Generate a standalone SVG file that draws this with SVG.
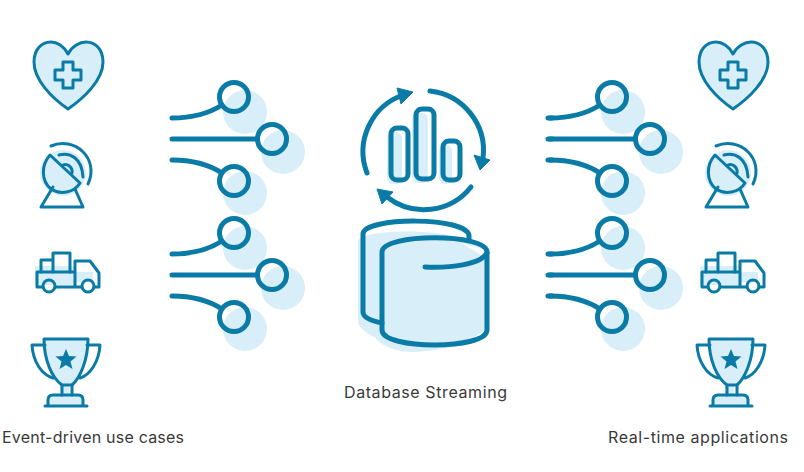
<svg xmlns="http://www.w3.org/2000/svg" width="804" height="472" viewBox="0 0 804 472">
<style>
.s{fill:none;stroke:#0a7ba6;stroke-width:3;stroke-linecap:round;stroke-linejoin:round}
.t{stroke-width:5}
.f{fill:#d8eef8;stroke:none}
.a{fill:#0a7ba6;stroke:#0a7ba6;stroke-width:1;stroke-linejoin:round}
text{font-family:"Inter","Noto Sans","Liberation Sans",sans-serif;font-size:16px;fill:#3a3a3a}
</style>
<defs>
<g id="heart">
<path class="f" d="M68 56C72 47 80 43 86 43C96 43 102 51 102 62C102 80 84 98 68 109C52 98 33 82 33 63C33 51 41 43 51 43C57 43 64 47 68 56Z"/>
<path class="s" d="M68 54C72 46 80 42 86 42C96 42 103 50 103 62C103 80 84 98 68 109C52 98 34 80 34 62C34 50 41 42 51 42C57 42 64 46 68 54Z"/>
<path class="s" d="M55 70H63V62H73V70H81V80H73V88H63V80H55Z"/>
</g>
<g id="dish">
<circle class="f" cx="63" cy="173" r="23"/>
<path class="s" d="M50 155L80 183C74 193 60 195 51 189C41 181 41 165 50 155Z"/>
<path class="s" d="M53 187L41 207H83L75 189"/>
<path class="s" d="M59 155C70 152 82 158 83 177"/>
<path class="s" d="M63 165C67 163 73 167 72 173"/>
<path class="s" d="M51 146C74 136 100 158 88 184"/>
</g>
<g id="truck">
<path class="f" d="M35 266H75V272H93V282H75V285H35Z"/>
<path class="s" d="M43 287H37V272H75V287H55M75 272V261H90L99 273V287H94M82 287H75"/>
<path class="s" d="M41 272V260H53M53 272V253H70V272"/>
<circle class="s" cx="49" cy="286" r="6"/>
<circle class="s" cx="88" cy="286" r="6"/>
</g>
<g id="trophy">
<path class="f" d="M45 340H88C88 360 80 378 69 385V396H82V405H48V396H60V385C48 376 44 360 45 340Z"/>
<path class="s" d="M44 339H88C88 360 80 378 72 385H62C52 378 44 360 44 339Z"/>
<path class="s" d="M45 345H32C33 362 42 375 53 378M87 345H100C99 362 90 375 80 378"/>
<path class="s" d="M62 385V395M72 385V395"/>
<path class="s" d="M48 406V400Q48 395 53 395H78Q83 395 83 400V406M45 406H87"/>
<path d="M66 349L69 356L76.500 356.500L70.500 361.500L72.500 369L66 365L59.500 369L61.500 361.500L55.500 356.500L63 356Z" fill="#0a7ba6"/>
</g>
<g id="fan">
<circle class="f" cx="245" cy="112" r="22"/>
<circle class="f" cx="283" cy="152" r="22"/>
<circle class="f" cx="245" cy="193" r="22"/>
<path class="s t" d="M222 105C208 114 190 118 172 118M257 139H172M222 173C208 164 190 160 172 160"/>
<circle class="s t" cx="234" cy="97" r="14.500"/>
<circle class="s t" cx="272" cy="139" r="14.500"/>
<circle class="s t" cx="234" cy="181" r="14.500"/>
</g>
<path id="stub" class="s t" d="M548 118H552M548 139H552M548 160H552"/>
</defs>

<g id="connectors">
<use href="#fan"/>
<use href="#fan" y="136"/>
<use href="#fan" x="378"/>
<use href="#stub"/>
<use href="#fan" x="378" y="136"/>
<use href="#stub" y="136"/>
</g>

<g id="left-heart"><use href="#heart"/></g>
<g id="left-dish"><use href="#dish"/></g>
<g id="left-truck"><use href="#truck"/></g>
<g id="left-trophy"><use href="#trophy"/></g>
<g id="right-heart"><use href="#heart" x="665"/></g>
<g id="right-dish"><use href="#dish" x="665"/></g>
<g id="right-truck"><use href="#truck" x="665"/></g>
<g id="right-trophy"><use href="#trophy" x="665"/></g>

<g id="analytics">
<rect class="f" x="387" y="132" width="15" height="52" rx="6"/>
<rect class="f" x="412" y="113" width="16" height="70" rx="6"/>
<rect class="f" x="439" y="145" width="13" height="39" rx="6"/>
<rect class="s t" x="391" y="128" width="17" height="52" rx="6"/>
<rect class="s t" x="416" y="109" width="18" height="70" rx="6"/>
<rect class="s t" x="443" y="141" width="17" height="39" rx="6"/>
<path class="s t" d="M430 91A60 60 0 0 1 483 158"/>
<path class="s t" d="M367 173A60 60 0 0 1 403 95"/>
<path class="s t" d="M471 187A60 60 0 0 1 387 197"/>
<path class="a" d="M397 88L413 92L401 104Z"/>
<path class="a" d="M474 155L490 160L480 170Z"/>
<path class="a" d="M377 189L393 192L382 204Z"/>
</g>

<g id="database">
<path class="f" d="M358 240C365 230 430 228 462 238V340H380C370 335 358 328 358 322Z"/>
<path class="f" d="M373 260C395 262 440 262 480 250V330C475 345 430 352 410 352C385 350 373 340 373 330Z"/>
<path class="f" d="M384 250C400 237 470 237 485 250V330C470 345 400 345 384 332Z"/>
<path d="M462 243L486 250L484 257Z" fill="#fff"/>
<path class="s t" d="M382 323C372 321 363 318 363 312V234C363 216.500 469 216.500 469 236V240"/>
<path class="s t" d="M382 252C382 233 487 233 487 252V330C487 350 382 350 382 330Z"/>
<path class="s t" d="M425 267C450 268 480 265 487 253"/>
</g>

<g id="labels">
<text x="344" y="398" textLength="163">Database Streaming</text>
<text x="2" y="443" textLength="182">Event-driven use cases</text>
<text x="608" y="443" textLength="180">Real-time applications</text>
</g>
</svg>
